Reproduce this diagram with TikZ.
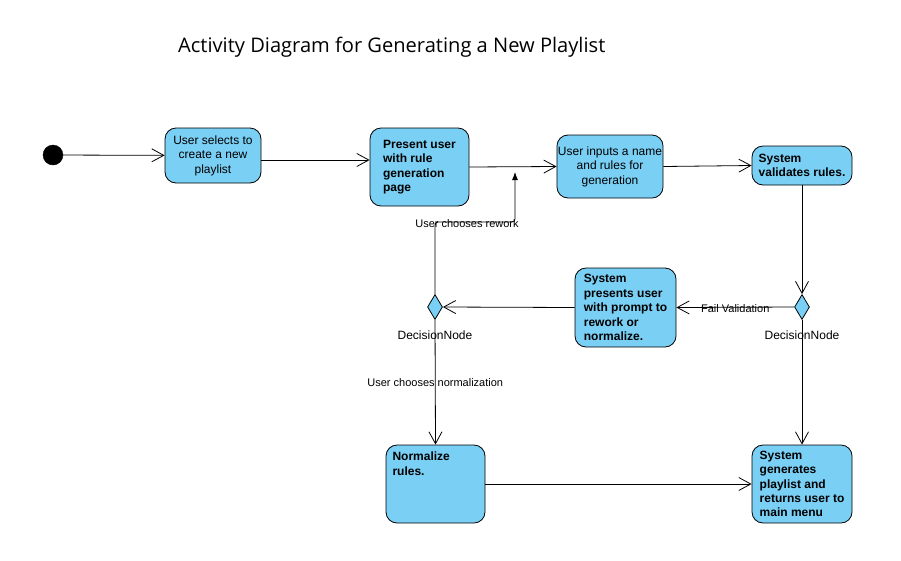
\documentclass[tikz,border=0pt]{standalone}
\usepackage{fontspec}
\usetikzlibrary{shapes.geometric, arrows.meta}
\newfontfamily\arialfont{Liberation Sans}
\newfontfamily\titlefont{Open Sans}
\definecolor{vpblue}{RGB}{122,207,245}
\newcommand{\actfont}{\arialfont\fontsize{12}{14.4}\selectfont}
\tikzset{
  act/.style={draw, fill=vpblue, rounded corners=11pt, line width=0.8pt, inner sep=1pt, align=center, font=\actfont},
  actb/.style={act, align=left, font=\actfont\bfseries},
  dec/.style={draw, diamond, fill=vpblue, line width=0.8pt, inner sep=0pt, minimum width=15pt, minimum height=25pt},
  flow/.style={-{Straight Barb[length=12pt, width=13pt]}, line width=0.8pt},
  lbl/.style={font=\arialfont\fontsize{11}{13}\selectfont, inner sep=1pt}
}

\begin{document}
\begin{tikzpicture}[x=1pt, y=-1pt]
\useasboundingbox (0,0) rectangle (901,560);
\node[anchor=base west, inner sep=0pt, font=\titlefont\fontsize{20.1}{24}\selectfont] (title) at (178,52) {Activity Diagram for Generating a New Playlist};
\node[draw, circle, fill=black, minimum size=20pt, inner sep=0pt] (start) at (53,155) {};
\node[act, minimum width=96pt, minimum height=55pt] (select) at (213,155.5) {User selects to\\create a new\\playlist};
\node[actb, minimum width=99pt, minimum height=78pt] (present) at (419.5,167) {Present user\\with rule\\generation\\page};
\node[act, minimum width=106pt, minimum height=63pt] (inputs) at (610,166.5) {User inputs a name\\and rules for\\generation};
\node[actb, minimum width=100pt, minimum height=39pt] (validate) at (802,165.5) {System\\validates rules.};
\node[dec] (dright) at (802,307) {};
\node[dec] (dleft) at (435,307) {};
\node[font=\arialfont\fontsize{12}{14}\selectfont] (dright-lbl) at (802,335) {DecisionNode};
\node[font=\arialfont\fontsize{12}{14}\selectfont] (dleft-lbl) at (435,335) {DecisionNode};
\node[actb, minimum width=101pt, minimum height=79pt] (prompt) at (625.5,307.5) {System\\presents user\\with prompt to\\rework or\\normalize.};
\node[act, minimum width=99pt, inner ysep=7pt] (normalize) at (435.5,484) {\parbox[t][64pt][t]{86pt}{\raggedright\bfseries Normalize\\rules.}};
\node[actb, minimum width=100pt, minimum height=78pt] (generate) at (802,484) {System\\generates\\playlist and\\returns user to\\main menu};
\coordinate (rwbend) at (515,222);
\coordinate (rwtip) at (515,172);
\draw [flow] (start)--(select);
\draw [flow] ([yshift=-4.5pt]select.east)--([yshift=-4.5pt]select.east -| present.west);
\draw [flow] (present.east)--(inputs.west);
\draw [flow] (inputs.east)--(validate.west);
\draw [flow] (validate.south)--(dright.north);
\draw [flow] (dright.west)--(prompt.east) node [lbl, midway, yshift=-1pt] {Fail Validation};
\draw [flow] (prompt.west)--(dleft.east);
\draw [flow] (dleft.south)--(normalize.north) node [lbl, midway] {User chooses normalization};
\draw [flow] (dright.south)--(generate.north);
\draw [flow] (normalize.east)--(generate.west);
% Rework loop back:
\draw [-{Latex[length=8pt, width=6pt]}, line width=0.8pt, rounded corners=3pt] (dleft.north) |- (rwbend) node [lbl, pos=0.7, yshift=-2pt] {User chooses rework} -- (rwtip);
\end{tikzpicture}
\end{document}
